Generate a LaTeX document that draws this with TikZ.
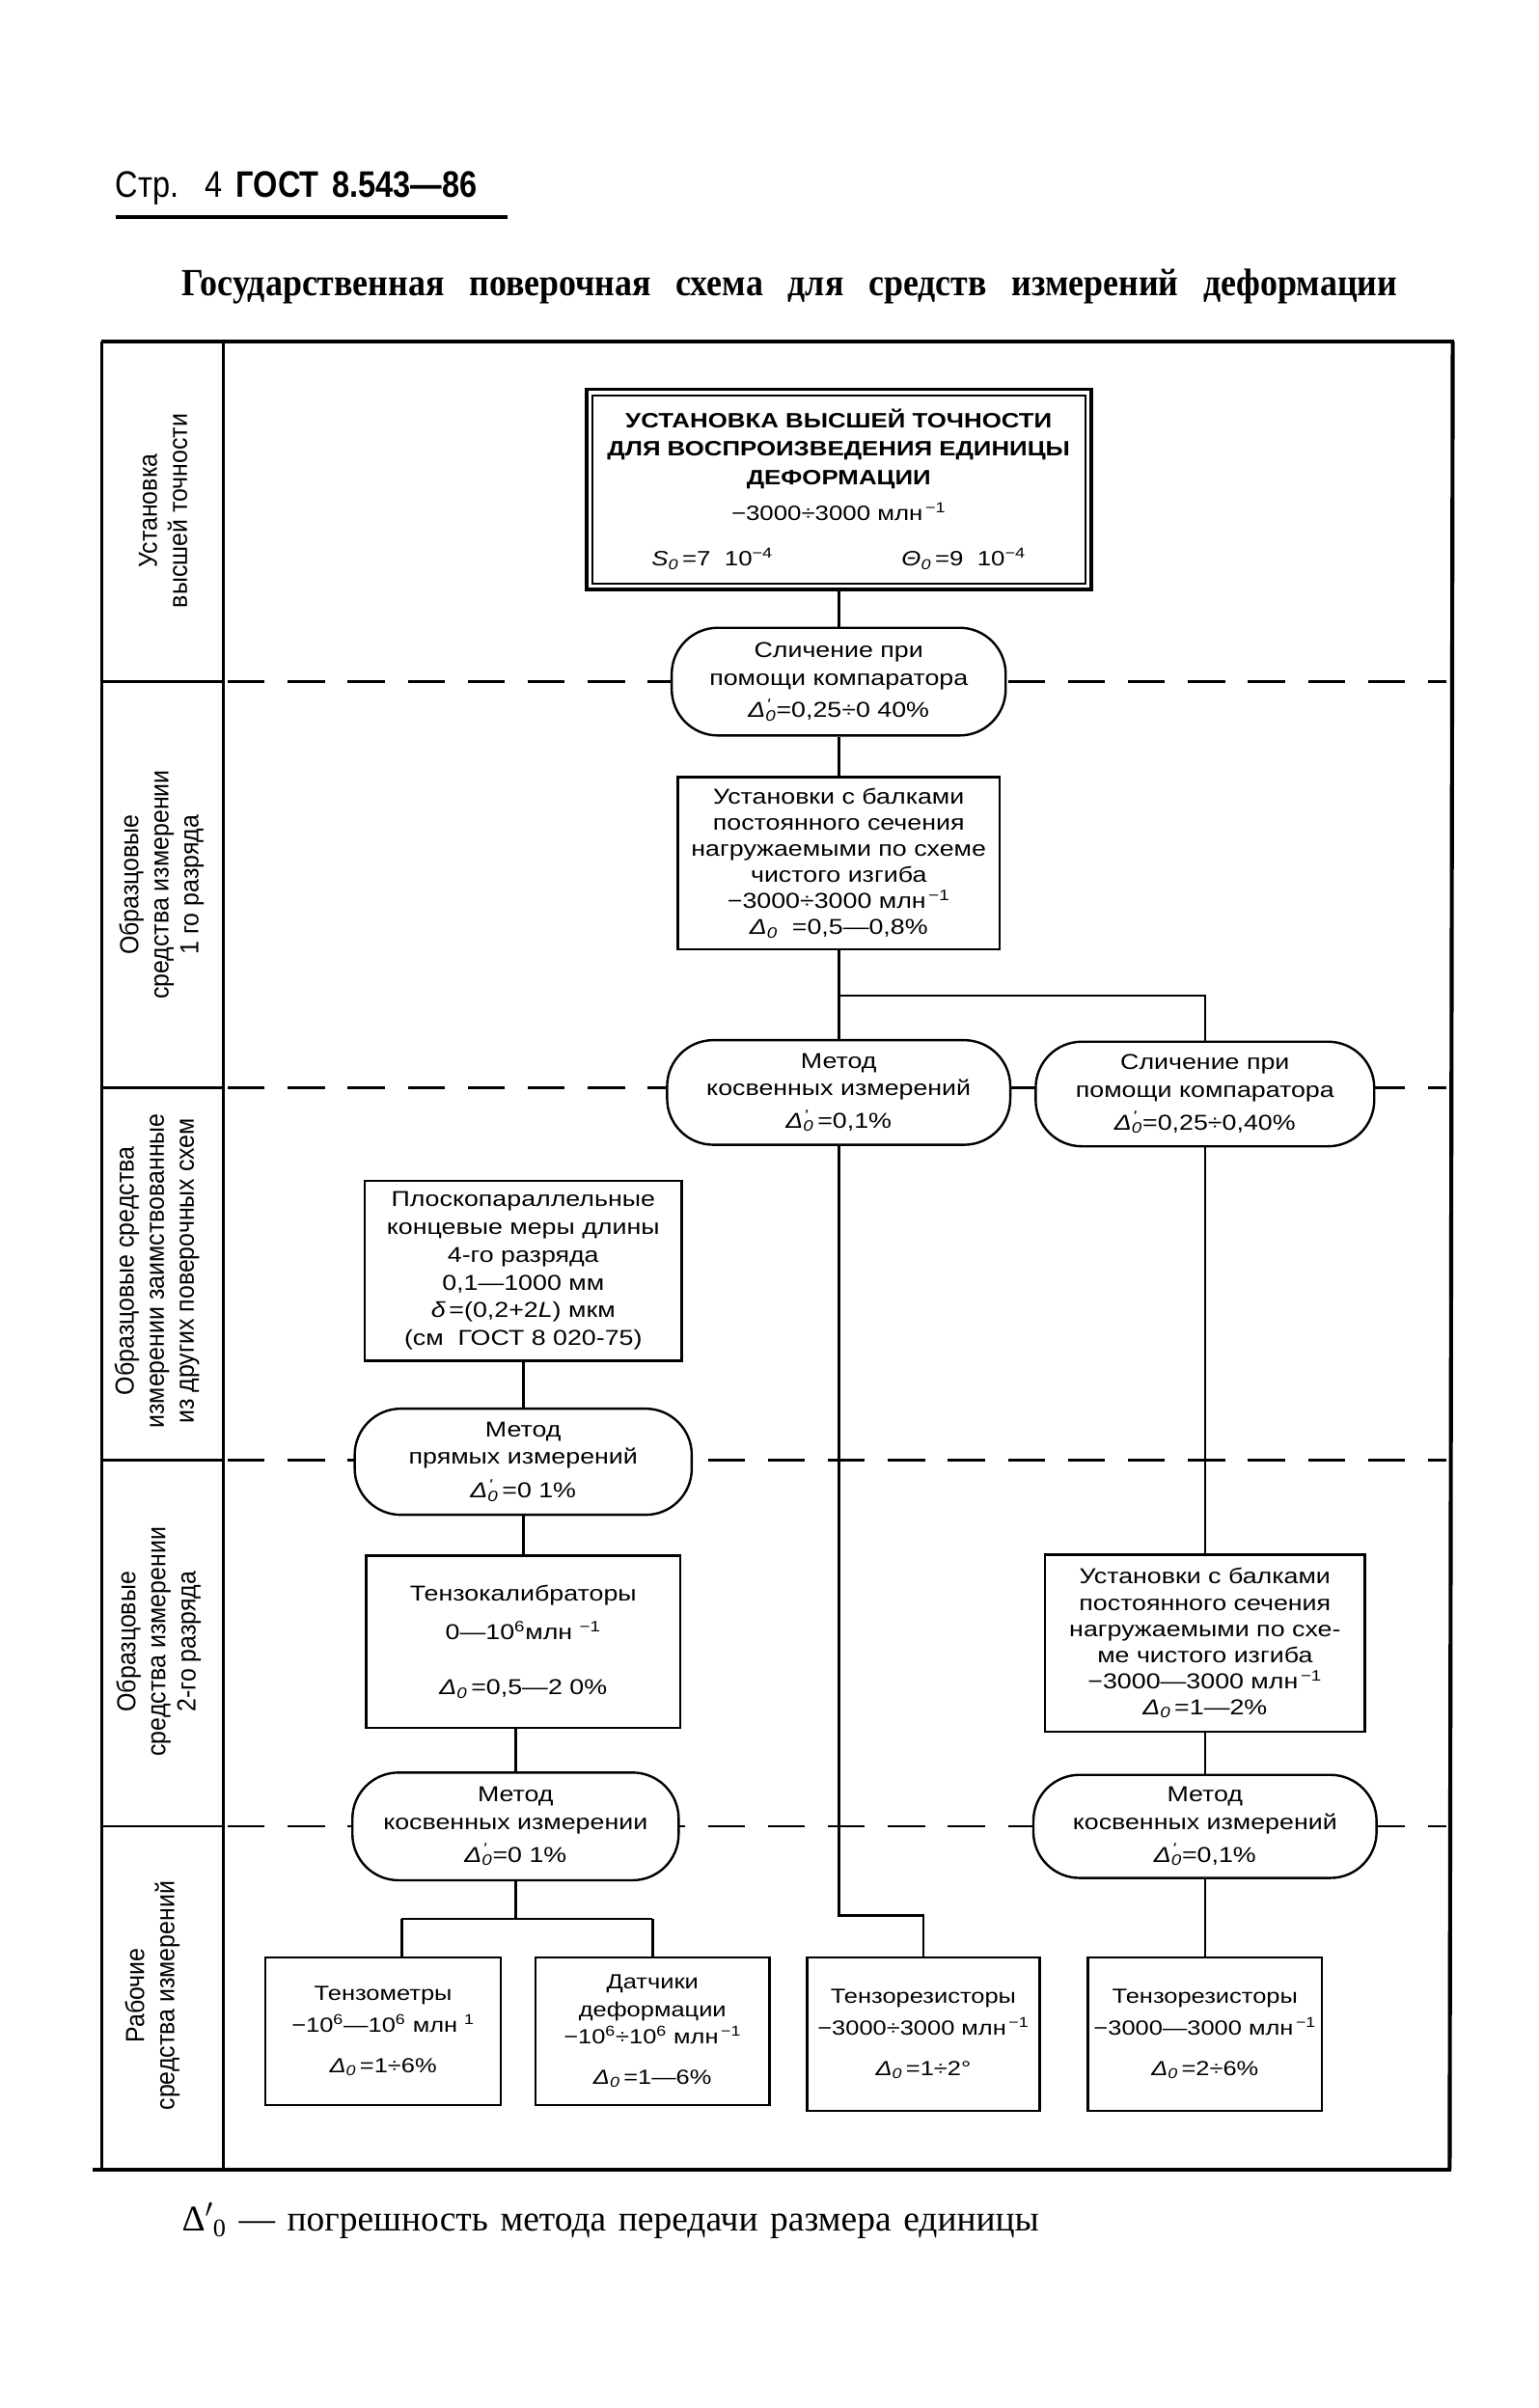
\documentclass[tikz,border=0pt]{standalone}
\usepackage{fontspec}
\setmainfont{Liberation Serif}
\newfontfamily\nodefont[FakeStretch=1.2]{Liberation Sans}
\newfontfamily\labfont[FakeStretch=0.92]{Liberation Sans}
\newfontfamily\hdrfont[FakeStretch=0.85]{Liberation Sans}
\newfontfamily\ttlfont[FakeStretch=0.9]{Liberation Serif}
\usetikzlibrary{calc}
\newcommand{\Dp}{{\itshape Δ}\rlap{\textsuperscript{\itshape\kern0.6pt '}}\textsubscript{\itshape 0}}
\newcommand{\Dz}{{\itshape Δ}\textsubscript{\itshape 0}}
\newcommand{\mln}{млн\textsuperscript{\,−1}}
\tikzset{
  nd/.style={draw, line width=1.5pt, fill=white, inner sep=0pt, align=center,
    font=\nodefont\fontsize{14}{18}\selectfont},
  boxnode/.style={nd},
  smallbox/.style={nd, font=\nodefont\fontsize{13.3}{18}\selectfont},
  pill/.style={nd, rounded corners=30pt},
  conn/.style={line width=1.6pt},
  sepline/.style={line width=1.4pt, dash pattern=on 24pt off 15pt},
  frameline/.style={line width=1.6pt},
  lab/.style={rotate=90, align=center, font=\labfont\fontsize{17}{19.5}\selectfont},
}
\begin{document}
\begin{tikzpicture}[x=1pt, y=-1pt]
\useasboundingbox (0,0) rectangle (1000,1565);
% header
\node[anchor=base west, inner sep=0pt, font=\hdrfont\fontsize{24}{24}\selectfont] (hdr) at (75,128) {\makebox[235pt][s]{Стр. 4 \bfseries ГОСТ 8.543—86}};
\draw[line width=2.5pt] (75,141) -- (330,141);
\node[anchor=base, inner sep=0pt, font=\ttlfont\bfseries\fontsize{25}{25}\selectfont] (title) at (513,192) {\makebox[790pt][s]{Государственная поверочная схема для средств измерений деформации}};
% frame
\draw[line width=2pt] (66,222) -- (945,222);
\draw[line width=2.6pt] (944,222) -- (942,1410);
\draw[line width=2.6pt] (60,1410) -- (943,1410);
\draw[frameline] (66,222) -- (66,1410);
\draw[frameline] (145,222) -- (145,1410);
\foreach \yy in {443,707,949,1187}{
  \draw[frameline] (66,\yy) -- (145,\yy);
  \draw[sepline] (148,\yy) -- (940,\yy);
}
% row labels
\node[lab] (r1) at (106,332) {Установка\\высшей точности};
\node[lab] (r2) at (105,575) {Образцовые\\средства измерении\\1 го разряда};
\node[lab] (r3) at (102,826) {Образцовые средства\\измерении заимствованные\\из других поверочных схем};
\node[lab] (r4) at (103,1067) {Образцовые\\средства измерении\\2-го разряда};
\node[lab] (r5) at (99,1297) {Рабочие\\средства измерений};
% nodes
\node[boxnode, line width=2.4pt, minimum width=328pt, minimum height=130pt, font=\nodefont\fontsize{13.5}{18.5}\selectfont] (n1) at (545,318)
 {\textbf{УСТАНОВКА ВЫСШЕЙ ТОЧНОСТИ}\\\textbf{ДЛЯ ВОСПРОИЗВЕДЕНИЯ ЕДИНИЦЫ}\\\textbf{ДЕФОРМАЦИИ}\\[5pt]−3000÷3000 \mln\\[11pt]\makebox[243pt][s]{{\itshape S}\textsubscript{\itshape 0}\,=7\ \ 10\textsuperscript{−4}\hfill{\itshape Θ}\textsubscript{\itshape 0}\,=9\ \ 10\textsuperscript{−4}}};
\draw[line width=1.3pt] ($(n1.north west)+(5,5)$) rectangle ($(n1.south east)+(-5,-5)$);
\node[pill, minimum width=217pt, minimum height=70pt] (n2) at (545,443)
 {Сличение при\\помощи компаратора\\[3pt]\Dp=0,25÷0 40\%};
\node[boxnode, minimum width=209pt, minimum height=112pt, font=\nodefont\fontsize{14}{17}\selectfont] (n3) at (545,561)
 {Установки с балками\\постоянного сечения\\нагружаемыми по схеме\\чистого изгиба\\−3000÷3000 \mln\\\Dz\ \ =0,5—0,8\%};
\node[pill, minimum width=223pt, minimum height=68pt] (n4) at (545,710)
 {Метод\\косвенных измерений\\[3pt]\Dp\,=0,1\%};
\node[pill, minimum width=220pt, minimum height=68pt] (n5) at (783,711)
 {Сличение при\\помощи компаратора\\[3pt]\Dp=0,25÷0,40\%};
\node[boxnode, minimum width=206pt, minimum height=117pt] (n6) at (340,826)
 {Плоскопараллельные\\концевые меры длины\\4-го разряда\\0,1—1000 мм\\{\itshape δ}\,=(0,2+2{\itshape L}) мкм\\(см\ \ ГОСТ 8 020-75)};
\node[pill, minimum width=219pt, minimum height=69pt] (n7) at (340,950)
 {Метод\\прямых измерений\\[4pt]\Dp\,=0 1\%};
\node[boxnode, minimum width=204pt, minimum height=112pt] (n8) at (340,1067)
 {Тензокалибраторы\\[7pt]0—10\textsuperscript{6}млн \textsuperscript{−1}\\[18pt]\Dz\,=0,5—2 0\%};
\node[boxnode, minimum width=208pt, minimum height=115pt, font=\nodefont\fontsize{14}{17}\selectfont] (n9) at (783,1068)
 {Установки с балками\\постоянного сечения\\нагружаемыми по схе-\\ме чистого изгиба\\−3000—3000 \mln\\\Dz\,=1—2\%};
\node[pill, minimum width=212pt, minimum height=70pt] (n10) at (335,1187)
 {Метод\\косвенных измерении\\[3pt]\Dp=0 1\%};
\node[pill, minimum width=223pt, minimum height=67pt] (n11) at (783,1187)
 {Метод\\косвенных измерений\\[3pt]\Dp=0,1\%};
\node[smallbox, minimum width=153pt, minimum height=96pt] (b1) at (249,1320)
 {Тензометры\\[3pt]−10\textsuperscript{6}—10\textsuperscript{6} млн \textsuperscript{1}\\[8pt]\Dz\,=1÷6\%};
\node[smallbox, minimum width=152pt, minimum height=96pt] (b2) at (424,1320)
 {Датчики\\деформации\\−10\textsuperscript{6}÷10\textsuperscript{6} \mln\\[8pt]\Dz\,=1—6\%};
\node[smallbox, minimum width=151pt, minimum height=100pt] (b3) at (600,1322)
 {Тензорезисторы\\[3pt]−3000÷3000 \mln\\[8pt]\Dz\,=1÷2°};
\node[smallbox, minimum width=152pt, minimum height=100pt] (b4) at (783,1322)
 {Тензорезисторы\\[3pt]−3000—3000 \mln\\[8pt]\Dz\,=2÷6\%};
% connectors
\draw[conn] (n1.south) -- (n2.north);
\draw[conn] (n2.south) -- (n3.north);
\draw[conn] (n3.south) -- (n4.north);
\coordinate (j1) at (545,647);
\draw[conn] (j1) -| (n5.north);
\coordinate (j2) at (545,1245);
\draw[conn] (n4.south) -- (j2) -| (b3.north);
\draw[conn] (n5.south) -- (n9.north);
\draw[conn] (n9.south) -- (n11.north);
\draw[conn] (n11.south) -- (b4.north);
\draw[conn] (n6.south) -- (n7.north);
\draw[conn] (n7.south) -- (n8.north);
\draw[conn] (n10.north |- n8.south) -- (n10.north);
\coordinate (j3) at (335,1247);
\coordinate (j4) at (261,1247);
\coordinate (j5) at (424,1247);
\draw[conn] (n10.south) -- (j3);
\draw[conn] (j4) -- (j5);
\draw[conn] (j4) -- (j4 |- b1.north);
\draw[conn] (j5) -- (b2.north);
% footer
\node[anchor=base west, inner sep=0pt, font=\fontsize{23.5}{23.5}\selectfont] (foot) at (118,1450) {\makebox[557pt][s]{Δ$'$\textsubscript{0} — погрешность метода передачи размера единицы}};
\end{tikzpicture}
\end{document}
